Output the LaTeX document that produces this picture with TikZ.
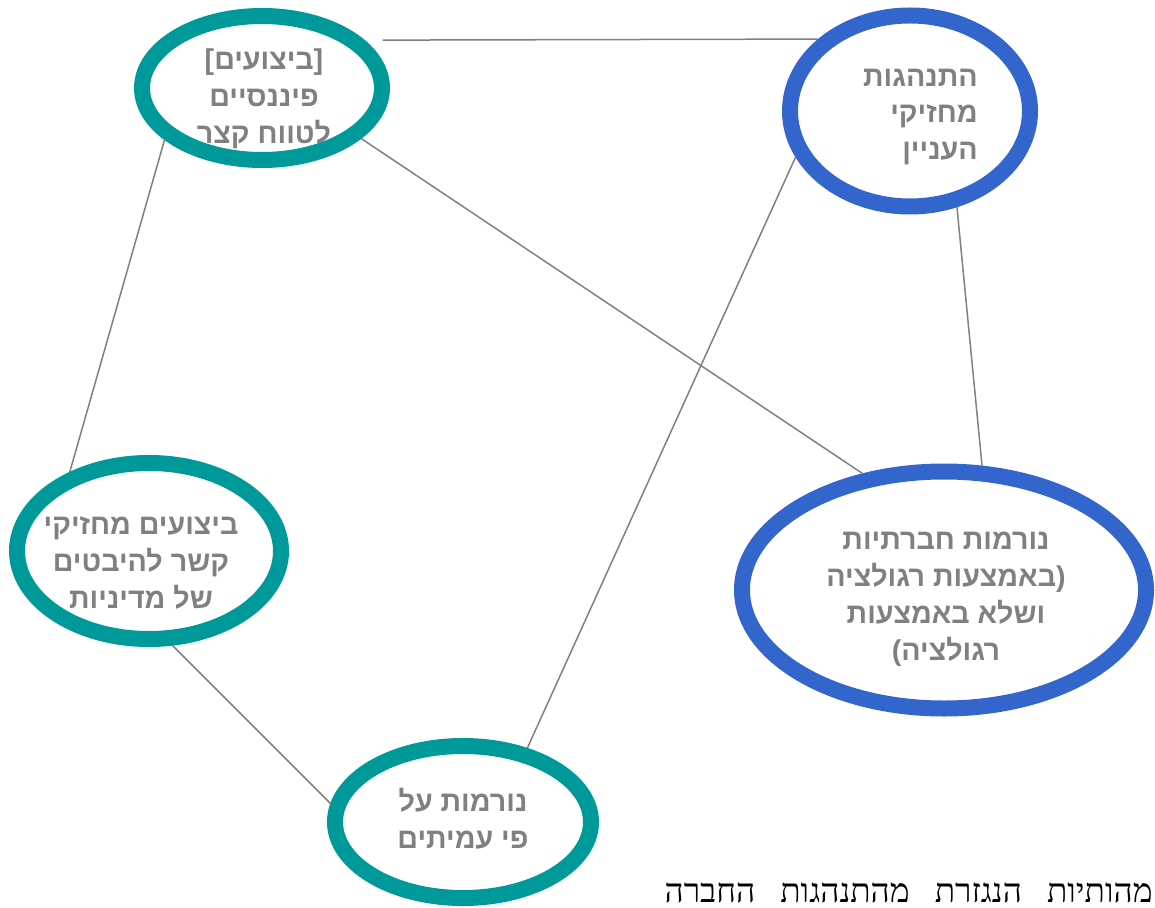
\documentclass[tikz,border=0pt]{standalone}
\usepackage{fontspec}
\setmainfont{Liberation Sans}
\newfontfamily\hebsans[Script=Hebrew]{Liberation Sans}
\newfontfamily\hebserif[Script=Hebrew]{Liberation Serif}
\TeXXeTstate=1
\newcommand{\rl}[1]{\beginR #1\endR}
\usepackage{xcolor}
\usepackage{tikz}
\usetikzlibrary{shapes.geometric}
\definecolor{tealring}{RGB}{0,153,153}
\definecolor{bluering}{RGB}{51,102,204}
\definecolor{linkgray}{RGB}{128,128,128}

\begin{document}
\begin{tikzpicture}[x=0.2mm, y=-0.2mm,
  ring/.style={draw, ellipse, line width=3.2mm, inner sep=0pt},
  ringtext/.style={text=linkgray, font=\hebsans\bfseries\fontsize{16.3}{21}\selectfont, align=center, inner sep=0pt},
  link/.style={draw=linkgray, line width=0.3mm}]
  \useasboundingbox (0,0) rectangle (1155,908);
  % rings
  \node[ring, draw=tealring, minimum width=48mm, minimum height=28.8mm] (finance) at (262,88) {};
  \node[ring, draw=bluering, minimum width=48mm, minimum height=38.2mm] (holders) at (910,111) {};
  \node[ring, draw=tealring, minimum width=52.8mm, minimum height=35.2mm] (policy) at (149,551) {};
  \node[ring, draw=bluering, minimum width=80.8mm, minimum height=47.4mm] (social) at (944,590) {};
  \node[ring, draw=tealring, minimum width=51.2mm, minimum height=30.4mm] (peers) at (463,822) {};
  % texts in the rings
  \node[ringtext] (financetxt) at (264,99) {\rl{[ביצועים]}\\\rl{פיננסיים}\\\rl{לטווח קצר}};
  \node[ringtext, align=right, anchor=east] (holderstxt) at (978,117) {\rl{התנהגות}\\\rl{מחזיקי}\\\rl{העניין}};
  \node[ringtext] (policytxt) at (141,563) {\rl{ביצועים מחזיקי}\\\rl{קשר להיבטים}\\\rl{של מדיניות}};
  \node[ringtext] (socialtxt) at (946,599) {\rl{נורמות חברתיות}\\\rl{(באמצעות רגולציה}\\\rl{ושלא באמצעות}\\\rl{רגולציה)}};
  \node[ringtext] (peerstxt) at (463,819) {\rl{נורמות על}\\\rl{פי עמיתים}};
  % links
  \draw[link, shorten <=3.6mm] (finance.25) -- (holders.142);
  \draw[link] (finance.208) -- (policy.135);
  \draw[link] (finance.333) -- (social.125);
  \draw[link] (holders.202) -- (peers.49);
  \draw[link] (holders.296) -- (social.73);
  \draw[link] (policy.284) -- (peers.172);
  % line of text below
  \node[font=\hebserif\fontsize{19}{22}\selectfont, anchor=base east, inner sep=0pt] (caption) at (1153,902)
    {\hbox to 97.6mm{\beginR מהותיות\hfill הנגזרת\hfill מהתנהגות\hfill החברה\endR}};
\end{tikzpicture}
\end{document}
